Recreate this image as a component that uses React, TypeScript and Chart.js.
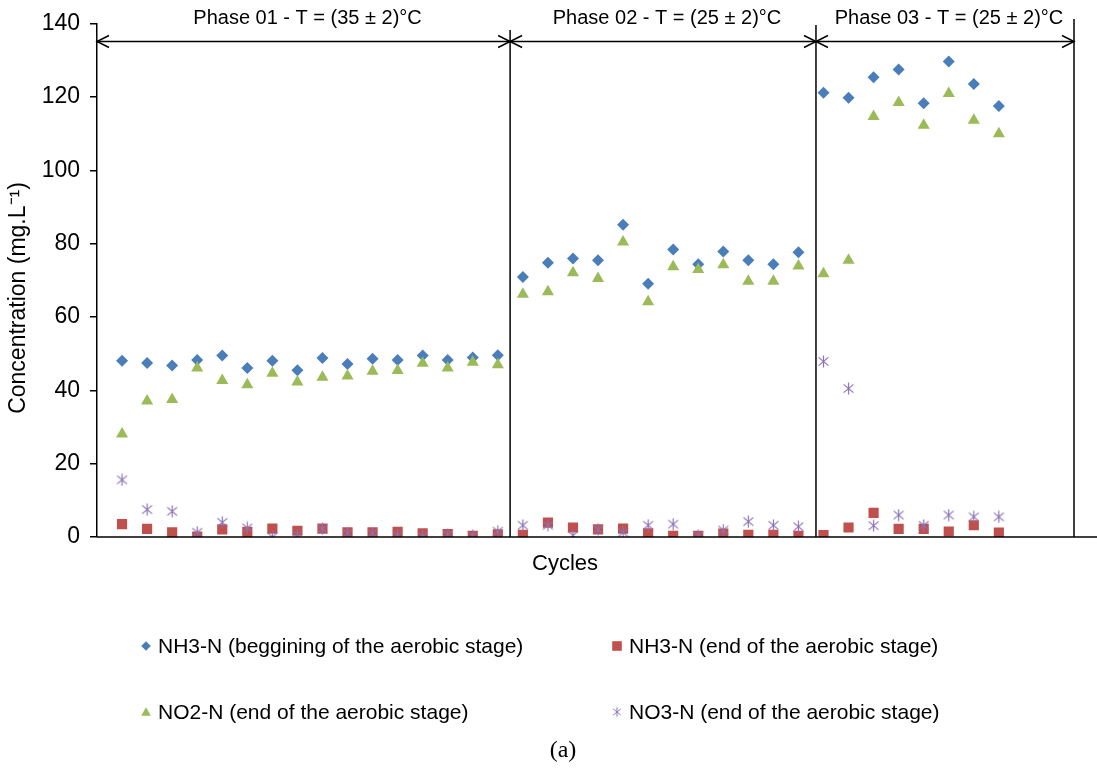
import React, { useEffect, useRef } from 'react';
import { Chart, registerables } from 'chart.js';

Chart.register(...registerables);

// ---------------- DATA ----------------
const cycles = [
  1, 2, 3, 4, 5, 6, 7, 8, 9, 10, 11, 12, 13, 14, 15, 16,
  17, 18, 19, 20, 21, 22, 23, 24, 25, 26, 27, 28,
  29, 30, 31, 32, 33, 34, 35, 36,
];

const nh3Begin = [
  48.1, 47.5, 46.8, 48.3, 49.5, 46.1, 48.1, 45.5, 48.8, 47.2, 48.6, 48.3, 49.5, 48.3, 49.0, 49.6,
  70.9, 74.8, 76.0, 75.5, 85.2, 69.1, 78.4, 74.4, 77.9, 75.5, 74.4, 77.7,
  121.2, 119.8, 125.4, 127.5, 118.3, 129.7, 123.6, 117.6,
];

const nh3End = [
  3.5, 2.2, 1.3, 0.1, 2.1, 1.4, 2.3, 1.7, 2.3, 1.3, 1.3, 1.4, 1.0, 0.8, 0.3, 0.7,
  0.6, 3.9, 2.6, 2.1, 2.3, 1.0, 0.3, 0.3, 0.9, 0.6, 0.6, 0.3,
  0.5, 2.6, 6.6, 2.2, 2.2, 1.5, 3.2, 1.2,
];

const no2End = [
  28.1, 37.1, 37.5, 46.1, 42.7, 41.5, 44.7, 42.3, 43.6, 43.9, 45.2, 45.4, 47.4, 46.1, 47.7, 47.0,
  66.2, 66.9, 72.1, 70.5, 80.5, 64.2, 73.7, 73.0, 74.3, 69.8, 69.8, 73.9,
  71.8, 75.5, 114.7, 118.5, 112.3, 121.0, 113.7, 110.0,
];

const no3End = [
  15.6, 7.5, 7.0, 1.3, 4.0, 2.5, 0.0, 0.5, 2.2, 1.0, 1.0, 0.5, 0.3, 0.7, 0.4, 1.6,
  3.2, 3.2, 0.4, 2.1, 1.2, 3.2, 3.5, 0.4, 1.9, 4.2, 3.2, 2.8,
  47.9, 40.5, 3.1, 6.0, 3.2, 6.0, 5.5, 5.5,
];

const seriesNames = [
  'NH3-N (beggining of the aerobic stage)',
  'NH3-N (end of the aerobic stage)',
  'NO2-N (end of the aerobic stage)',
  'NO3-N (end of the aerobic stage)',
];

const yTicks = [0, 20, 40, 60, 80, 100, 120, 140];

const phaseLabels = [
  'Phase 01 - T = (35 ± 2)°C',
  'Phase 02 - T = (25 ± 2)°C',
  'Phase 03 - T = (25 ± 2)°C',
];
const phaseBounds = [0, 16.49, 28.7, 39];

const xTitle = 'Cycles';
const yTitle = 'Concentration (mg.L⁻¹)';
const caption = '(a)';

// ---------------- STYLE ----------------
const FONT = '"Liberation Sans", Arial, sans-serif';
const BLUE = '#4A7EBB';
const RED = '#C0504D';
const GREEN = '#9BBB59';
const PURPLE = '#8B73B8';

function makeAsterisk(size: number, color: string, lw: number) {
  const c = document.createElement('canvas');
  c.width = size;
  c.height = size;
  const ctx = c.getContext('2d')!;
  ctx.strokeStyle = color;
  ctx.lineWidth = lw;
  const m = size / 2;
  const a = size * 0.38;
  const b = size * 0.32;
  ctx.beginPath();
  ctx.moveTo(m, m - size * 0.46);
  ctx.lineTo(m, m + size * 0.46);
  ctx.moveTo(m - a, m - b);
  ctx.lineTo(m + a, m + b);
  ctx.moveTo(m + a, m - b);
  ctx.lineTo(m - a, m + b);
  ctx.stroke();
  return c;
}

function drawMarker(ctx: CanvasRenderingContext2D, kind: number, x: number, y: number, s: number, star?: HTMLCanvasElement) {
  ctx.save();
  if (kind === 0) {
    ctx.fillStyle = BLUE;
    ctx.beginPath();
    ctx.moveTo(x, y - s);
    ctx.lineTo(x + s, y);
    ctx.lineTo(x, y + s);
    ctx.lineTo(x - s, y);
    ctx.closePath();
    ctx.fill();
  } else if (kind === 1) {
    ctx.fillStyle = RED;
    ctx.fillRect(x - s, y - s, 2 * s, 2 * s);
  } else if (kind === 2) {
    ctx.fillStyle = GREEN;
    ctx.beginPath();
    ctx.moveTo(x, y - s);
    ctx.lineTo(x + s, y + s * 0.8);
    ctx.lineTo(x - s, y + s * 0.8);
    ctx.closePath();
    ctx.fill();
  } else if (star) {
    ctx.drawImage(star, x - star.width / 2, y - star.height / 2);
  }
  ctx.restore();
}

export default function App() {
  const ref = useRef<HTMLCanvasElement | null>(null);

  useEffect(() => {
    if (!ref.current) return;
    const star = makeAsterisk(13, PURPLE, 1.2);
    const legendStar = makeAsterisk(10, PURPLE, 1);

    const toPts = (arr: number[]) => cycles.map((c, i) => ({ x: c, y: arr[i] }));

    const overlay = {
      id: 'overlay',
      afterDraw(chart: any) {
        const ctx: CanvasRenderingContext2D = chart.ctx;
        const xs = chart.scales.x;
        const ys = chart.scales.y;
        const area = chart.chartArea;
        const yBottom = ys.getPixelForValue(0);
        ctx.save();
        ctx.strokeStyle = '#000';
        ctx.fillStyle = '#000';
        ctx.lineWidth = 1.5;

        // x axis line
        ctx.beginPath();
        ctx.moveTo(area.left, yBottom);
        ctx.lineTo(1097, yBottom);
        ctx.stroke();

        // phase vertical lines
        const px = phaseBounds.map((b) => xs.getPixelForValue(b));
        const tops = [area.top, 30, 25, 19];
        for (let i = 1; i < px.length; i++) {
          ctx.beginPath();
          ctx.moveTo(px[i], tops[i]);
          ctx.lineTo(px[i], yBottom);
          ctx.stroke();
        }

        // arrow line
        const ay = 41.5;
        ctx.beginPath();
        ctx.moveTo(px[0], ay);
        ctx.lineTo(px[px.length - 1], ay);
        ctx.stroke();
        const head = (x: number, dir: number) => {
          ctx.beginPath();
          ctx.moveTo(x + dir * 12, ay - 6);
          ctx.lineTo(x, ay);
          ctx.lineTo(x + dir * 12, ay + 6);
          ctx.stroke();
        };
        for (let i = 0; i < px.length; i++) {
          if (i > 0) head(px[i], -1);
          if (i < px.length - 1) head(px[i], 1);
        }

        // phase labels
        ctx.font = `20px ${FONT}`;
        ctx.textAlign = 'center';
        ctx.textBaseline = 'middle';
        for (let i = 0; i < phaseLabels.length; i++) {
          ctx.fillText(phaseLabels[i], (px[i] + px[i + 1]) / 2 + 4, 18);
        }

        // x title
        ctx.font = `22px ${FONT}`;
        ctx.fillText(xTitle, 565, 564);

        // y title
        ctx.save();
        ctx.translate(19, 298);
        ctx.rotate(-Math.PI / 2);
        ctx.font = `23px ${FONT}`;
        ctx.fillText(yTitle, 0, 0);
        ctx.restore();

        // legend
        ctx.font = `21px ${FONT}`;
        ctx.textAlign = 'left';
        const legPos = [
          [146, 646],
          [617, 646],
          [146, 712],
          [617, 712],
        ];
        for (let i = 0; i < seriesNames.length; i++) {
          const [lx, ly] = legPos[i];
          drawMarker(ctx, i, lx, ly, 4.8, legendStar);
          ctx.fillStyle = '#000';
          ctx.fillText(seriesNames[i], lx + 12, ly + 1);
        }

        // caption
        ctx.font = `24px "Liberation Serif", "Times New Roman", serif`;
        ctx.textAlign = 'center';
        ctx.fillText(caption, 563, 751);
        ctx.restore();
      },
    };

    const chart = new Chart(ref.current, {
      type: 'scatter',
      data: {
        datasets: [
          {
            label: seriesNames[0],
            data: toPts(nh3Begin),
            pointStyle: 'rectRot',
            pointRadius: 6,
            backgroundColor: BLUE,
            borderColor: BLUE,
            borderWidth: 0,
            order: 4,
          },
          {
            label: seriesNames[1],
            data: toPts(nh3End),
            pointStyle: 'rect',
            pointRadius: 7.2,
            backgroundColor: RED,
            borderColor: RED,
            borderWidth: 0,
            order: 3,
          },
          {
            label: seriesNames[2],
            data: toPts(no2End),
            pointStyle: 'triangle',
            pointRadius: 7,
            backgroundColor: GREEN,
            borderColor: GREEN,
            borderWidth: 0,
            order: 2,
          },
          {
            label: seriesNames[3],
            data: toPts(no3End),
            pointStyle: star as any,
            pointRadius: 6,
            backgroundColor: PURPLE,
            borderColor: PURPLE,
            order: 1,
          },
        ],
      },
      options: {
        responsive: false,
        animation: false,
        events: [],
        layout: { padding: { left: 0, top: 20, right: 23, bottom: 235 } },
        plugins: {
          legend: { display: false },
          tooltip: { enabled: false },
          title: { display: false },
        },
        scales: {
          x: {
            type: 'linear',
            min: 0,
            max: 39,
            display: false,
          },
          y: {
            type: 'linear',
            min: 0,
            max: 140,
            afterFit: (s: any) => {
              s.width = 97;
            },
            afterBuildTicks: (s: any) => {
              s.ticks = yTicks.map((v) => ({ value: v }));
            },
            ticks: {
              font: { family: FONT, size: 23 },
              color: '#000',
              padding: 10,
            },
            grid: {
              drawOnChartArea: false,
              drawTicks: true,
              tickLength: 7,
              color: '#000',
              lineWidth: 1.5,
            },
            border: { display: true, color: '#000', width: 1.5 },
          },
        },
      },
      plugins: [overlay],
    });

    return () => chart.destroy();
  }, []);

  return (
    <div style={{ position: 'absolute', left: 0, top: 0, width: 1097, height: 772, background: '#fff' }}>
      <canvas ref={ref} width={1097} height={772} />
    </div>
  );
}
